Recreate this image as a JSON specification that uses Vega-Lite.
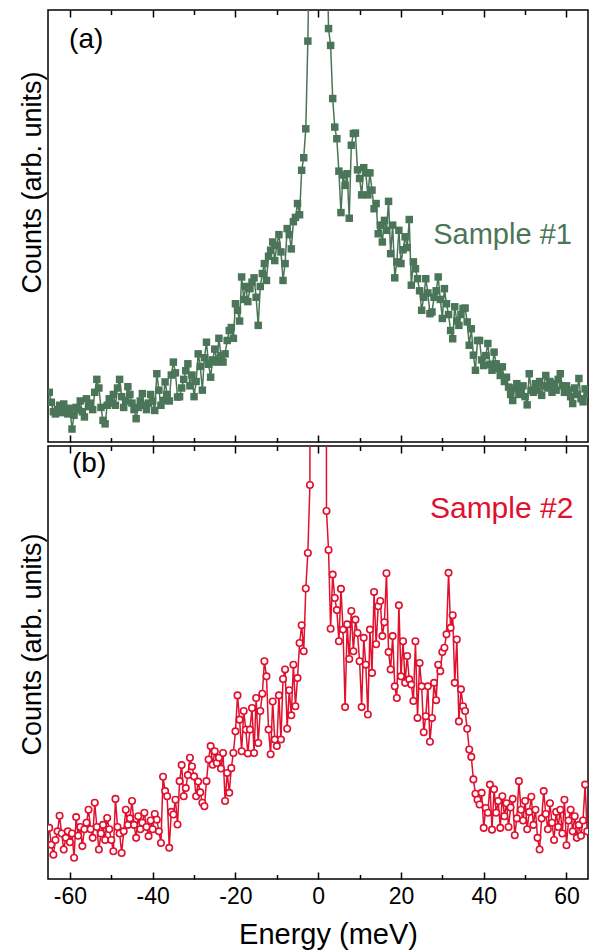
{
"$schema": "https://vega.github.io/schema/vega-lite/v6.json",
"background": "white",
"padding": {"left": 17, "top": 8, "right": 5, "bottom": 5},
"spacing": 0,
"config": {"view": {"stroke": "black", "strokeWidth": 1.5}, "font": "Liberation Sans", "axis": {"domain": false, "grid": false, "labelFont": "Liberation Sans", "titleFont": "Liberation Sans", "titleFontWeight": "normal", "labelColor": "black", "titleColor": "black", "tickColor": "black"}},
"datasets": {
"a": [
{"x":-65,"y":11.5},{"x":-64.5,"y":9.2},{"x":-64,"y":7.0},{"x":-63.5,"y":6.5},{"x":-63,"y":7.5},{"x":-62.5,"y":8.5},{"x":-62,"y":6.8},{"x":-61.5,"y":8.8},{"x":-61,"y":7.2},{"x":-60.5,"y":6.5},
{"x":-60,"y":7.8},{"x":-59.5,"y":3.0},{"x":-59,"y":6.2},{"x":-58.5,"y":8.0},{"x":-58,"y":7.5},{"x":-57.5,"y":9.5},{"x":-57,"y":7.0},{"x":-56.5,"y":5.8},{"x":-56,"y":10.0},{"x":-55.5,"y":8.2},
{"x":-55,"y":9.0},{"x":-54.5,"y":7.5},{"x":-54,"y":11.5},{"x":-53.5,"y":14.5},{"x":-53,"y":12.5},{"x":-52.5,"y":8.0},{"x":-52,"y":5.0},{"x":-51.5,"y":4.2},{"x":-51,"y":8.5},{"x":-50.5,"y":10.0},
{"x":-50,"y":9.0},{"x":-49.5,"y":11.0},{"x":-49,"y":8.5},{"x":-48.5,"y":12.5},{"x":-48,"y":14.5},{"x":-47.5,"y":10.5},{"x":-47,"y":8.0},{"x":-46.5,"y":9.5},{"x":-46,"y":12.8},{"x":-45.5,"y":11.0},
{"x":-45,"y":9.0},{"x":-44.5,"y":7.5},{"x":-44,"y":5.4},{"x":-43.5,"y":8.0},{"x":-43,"y":9.5},{"x":-42.5,"y":11.2},{"x":-42,"y":8.5},{"x":-41.5,"y":7.5},{"x":-41,"y":9.0},{"x":-40.5,"y":11.0},
{"x":-40,"y":9.5},{"x":-39.5,"y":7.3},{"x":-39,"y":15.8},{"x":-38.5,"y":12.0},{"x":-38,"y":8.5},{"x":-37.5,"y":9.6},{"x":-37,"y":13.9},{"x":-36.5,"y":11.0},{"x":-36,"y":9.5},{"x":-35.5,"y":15.5},
{"x":-35,"y":18.5},{"x":-34.5,"y":16.0},{"x":-34,"y":10.4},{"x":-33.5,"y":10.5},{"x":-33,"y":12.5},{"x":-32.5,"y":14.5},{"x":-32,"y":16.5},{"x":-31.5,"y":18.1},{"x":-31,"y":13.0},{"x":-30.5,"y":15.5},
{"x":-30,"y":10.5},{"x":-29.5,"y":14.0},{"x":-29,"y":20.4},{"x":-28.5,"y":17.5},{"x":-28,"y":12.0},{"x":-27.5,"y":19.5},{"x":-27,"y":23.1},{"x":-26.5,"y":18.0},{"x":-26,"y":15.0},{"x":-25.5,"y":19.0},
{"x":-25,"y":21.5},{"x":-24.5,"y":18.5},{"x":-24,"y":24.0},{"x":-23.5,"y":20.0},{"x":-23,"y":18.5},{"x":-22.5,"y":20.4},{"x":-22,"y":23.5},{"x":-21.5,"y":25.8},{"x":-21,"y":26.5},{"x":-20.5,"y":24.0},
{"x":-20,"y":32.0},{"x":-19.5,"y":30.5},{"x":-19,"y":28.0},{"x":-18.5,"y":38.2},{"x":-18,"y":33.0},{"x":-17.5,"y":36.0},{"x":-17,"y":32.5},{"x":-16.5,"y":35.5},{"x":-16,"y":37.0},{"x":-15.5,"y":38.0},
{"x":-15,"y":33.5},{"x":-14.5,"y":27.0},{"x":-14,"y":36.0},{"x":-13.5,"y":39.0},{"x":-13,"y":41.3},{"x":-12.5,"y":37.4},{"x":-12,"y":43.0},{"x":-11.5,"y":44.4},{"x":-11,"y":46.3},{"x":-10.5,"y":42.0},
{"x":-10,"y":45.5},{"x":-9.5,"y":48.0},{"x":-9,"y":44.0},{"x":-8.5,"y":37.4},{"x":-8,"y":41.3},{"x":-7.5,"y":49.4},{"x":-7,"y":48.0},{"x":-6.5,"y":44.7},{"x":-6,"y":51.0},{"x":-5.5,"y":52.0},
{"x":-5,"y":55.2},{"x":-4.5,"y":52.6},{"x":-4,"y":62.9},{"x":-3.5,"y":65.8},{"x":-3,"y":72.5},{"x":-2.5,"y":92.8},{"x":-2,"y":125},{"x":-1.5,"y":300},{"x":-1,"y":700},{"x":-0.5,"y":1200},
{"x":0,"y":1500},{"x":0.5,"y":1200},{"x":1,"y":700},{"x":1.5,"y":300},{"x":2,"y":120},{"x":2.5,"y":95.7},{"x":3,"y":91.8},{"x":3.5,"y":79.5},{"x":4,"y":72.9},{"x":4.5,"y":70.2},
{"x":5,"y":62.7},{"x":5.5,"y":53.1},{"x":6,"y":61.8},{"x":6.5,"y":59.4},{"x":7,"y":62.1},{"x":7.5,"y":51.8},{"x":8,"y":68.7},{"x":8.5,"y":71.4},{"x":9,"y":71.5},{"x":9.5,"y":63.0},
{"x":10,"y":61.0},{"x":10.5,"y":57.2},{"x":11,"y":63.5},{"x":11.5,"y":62.3},{"x":12,"y":57.2},{"x":12.5,"y":62.3},{"x":13,"y":58.3},{"x":13.5,"y":54.0},{"x":14,"y":55.2},{"x":14.5,"y":48.2},
{"x":15,"y":50.2},{"x":15.5,"y":46.3},{"x":16,"y":51.3},{"x":16.5,"y":49.0},{"x":17,"y":55.7},{"x":17.5,"y":43.6},{"x":18,"y":50.2},{"x":18.5,"y":38.0},{"x":19,"y":41.7},{"x":19.5,"y":49.0},
{"x":20,"y":41.3},{"x":20.5,"y":44.5},{"x":21,"y":47.5},{"x":21.5,"y":45.0},{"x":22,"y":51.5},{"x":22.5,"y":36.3},{"x":23,"y":41.7},{"x":23.5,"y":40.1},{"x":24,"y":37.8},{"x":24.5,"y":35.0},
{"x":25,"y":30.5},{"x":25.5,"y":33.5},{"x":26,"y":37.8},{"x":26.5,"y":34.5},{"x":27,"y":29.7},{"x":27.5,"y":30.1},{"x":28,"y":33.5},{"x":28.5,"y":35.0},{"x":29,"y":38.2},{"x":29.5,"y":33.0},
{"x":30,"y":28.6},{"x":30.5,"y":35.5},{"x":31,"y":32.0},{"x":31.5,"y":29.5},{"x":32,"y":25.8},{"x":32.5,"y":23.9},{"x":33,"y":31.3},{"x":33.5,"y":28.0},{"x":34,"y":27.0},{"x":34.5,"y":29.5},
{"x":35,"y":30.9},{"x":35.5,"y":31.0},{"x":36,"y":27.8},{"x":36.5,"y":22.4},{"x":37,"y":26.2},{"x":37.5,"y":20.1},{"x":38,"y":16.6},{"x":38.5,"y":23.5},{"x":39,"y":23.5},{"x":39.5,"y":19.0},
{"x":40,"y":17.7},{"x":40.5,"y":20.0},{"x":41,"y":22.8},{"x":41.5,"y":18.0},{"x":42,"y":16.6},{"x":42.5,"y":20.8},{"x":43,"y":18.1},{"x":43.5,"y":17.0},{"x":44,"y":15.4},{"x":44.5,"y":17.4},
{"x":45,"y":14.0},{"x":45.5,"y":15.0},{"x":46,"y":12.7},{"x":46.5,"y":11.0},{"x":47,"y":9.6},{"x":47.5,"y":12.5},{"x":48,"y":13.5},{"x":48.5,"y":11.0},{"x":49,"y":12.0},{"x":49.5,"y":13.0},
{"x":50,"y":10.5},{"x":50.5,"y":8.6},{"x":51,"y":15.8},{"x":51.5,"y":12.0},{"x":52,"y":11.5},{"x":52.5,"y":13.5},{"x":53,"y":12.0},{"x":53.5,"y":14.0},{"x":54,"y":10.8},{"x":54.5,"y":13.0},
{"x":55,"y":15.4},{"x":55.5,"y":12.5},{"x":56,"y":14.0},{"x":56.5,"y":11.5},{"x":57,"y":13.5},{"x":57.5,"y":12.0},{"x":58,"y":14.5},{"x":58.5,"y":15.8},{"x":59,"y":13.0},{"x":59.5,"y":11.5},
{"x":60,"y":13.0},{"x":60.5,"y":12.0},{"x":61,"y":10.5},{"x":61.5,"y":8.9},{"x":62,"y":12.5},{"x":62.5,"y":11.0},{"x":63,"y":14.7},{"x":63.5,"y":10.0},{"x":64,"y":9.3},{"x":64.5,"y":12.3},{"x":65,"y":11.0}
],
"b": [
{"x":-65,"y":11.8},{"x":-64.5,"y":7.9},{"x":-64,"y":5.6},{"x":-63.5,"y":9.0},{"x":-63,"y":11.0},{"x":-62.5,"y":14.6},{"x":-62,"y":10.5},{"x":-61.5,"y":6.8},{"x":-61,"y":9.5},{"x":-60.5,"y":11.0},
{"x":-60,"y":8.5},{"x":-59.5,"y":10.5},{"x":-59,"y":4.9},{"x":-58.5,"y":14.3},{"x":-58,"y":10.0},{"x":-57.5,"y":12.0},{"x":-57,"y":7.6},{"x":-56.5,"y":11.5},{"x":-56,"y":13.0},{"x":-55.5,"y":16.0},
{"x":-55,"y":11.5},{"x":-54.5,"y":9.5},{"x":-54,"y":17.6},{"x":-53.5,"y":12.0},{"x":-53,"y":6.8},{"x":-52.5,"y":10.5},{"x":-52,"y":12.5},{"x":-51.5,"y":9.0},{"x":-51,"y":14.1},{"x":-50.5,"y":11.5},
{"x":-50,"y":9.0},{"x":-49.5,"y":6.4},{"x":-49,"y":18.5},{"x":-48.5,"y":12.0},{"x":-48,"y":10.5},{"x":-47.5,"y":6.0},{"x":-47,"y":11.0},{"x":-46.5,"y":16.0},{"x":-46,"y":12.5},{"x":-45.5,"y":14.0},
{"x":-45,"y":18.0},{"x":-44.5,"y":12.5},{"x":-44,"y":9.5},{"x":-43.5,"y":14.5},{"x":-43,"y":11.5},{"x":-42.5,"y":13.0},{"x":-42,"y":15.3},{"x":-41.5,"y":12.0},{"x":-41,"y":9.9},{"x":-40.5,"y":13.5},
{"x":-40,"y":11.5},{"x":-39.5,"y":15.0},{"x":-39,"y":13.7},{"x":-38.5,"y":11.0},{"x":-38,"y":8.3},{"x":-37.5,"y":23.6},{"x":-37,"y":20.3},{"x":-36.5,"y":19.1},{"x":-36,"y":7.2},{"x":-35.5,"y":15.5},
{"x":-35,"y":14.9},{"x":-34.5,"y":18.3},{"x":-34,"y":12.6},{"x":-33.5,"y":22.6},{"x":-33,"y":26.3},{"x":-32.5,"y":19.1},{"x":-32,"y":21.0},{"x":-31.5,"y":24.0},{"x":-31,"y":28.0},{"x":-30.5,"y":26.0},
{"x":-30,"y":23.7},{"x":-29.5,"y":19.1},{"x":-29,"y":22.5},{"x":-28.5,"y":20.0},{"x":-28,"y":17.6},{"x":-27.5,"y":16.8},{"x":-27,"y":22.6},{"x":-26.5,"y":27.6},{"x":-26,"y":30.7},{"x":-25.5,"y":26.4},
{"x":-25,"y":29.5},{"x":-24.5,"y":26.8},{"x":-24,"y":28.0},{"x":-23.5,"y":25.5},{"x":-23,"y":29.1},{"x":-22.5,"y":18.0},{"x":-22,"y":24.5},{"x":-21.5,"y":19.9},{"x":-21,"y":25.6},{"x":-20.5,"y":29.1},
{"x":-20,"y":34.1},{"x":-19.5,"y":42.4},{"x":-19,"y":36.8},{"x":-18.5,"y":29.5},{"x":-18,"y":38.8},{"x":-17.5,"y":34.5},{"x":-17,"y":29.0},{"x":-16.5,"y":34.5},{"x":-16,"y":39.5},{"x":-15.5,"y":29.1},
{"x":-15,"y":41.8},{"x":-14.5,"y":31.4},{"x":-14,"y":38.8},{"x":-13.5,"y":42.8},{"x":-13,"y":50.3},{"x":-12.5,"y":46.8},{"x":-12,"y":34.5},{"x":-11.5,"y":28.8},{"x":-11,"y":41.0},{"x":-10.5,"y":32.2},
{"x":-10,"y":30.7},{"x":-9.5,"y":42.4},{"x":-9,"y":32.2},{"x":-8.5,"y":46.2},{"x":-8,"y":48.4},{"x":-7.5,"y":34.7},{"x":-7,"y":43.6},{"x":-6.5,"y":37.8},{"x":-6,"y":49.5},{"x":-5.5,"y":39.9},
{"x":-5,"y":46.4},{"x":-4.5,"y":54.5},{"x":-4,"y":58.6},{"x":-3.5,"y":52.6},{"x":-3,"y":67.1},{"x":-2.5,"y":75.3},{"x":-2,"y":91.0},{"x":-1.5,"y":600},{"x":-1,"y":1200},{"x":-0.5,"y":1500},
{"x":0,"y":1500},{"x":0.5,"y":1500},{"x":1,"y":1200},{"x":1.5,"y":600},{"x":2,"y":85.0},{"x":2.5,"y":76.0},{"x":3,"y":57.8},{"x":3.5,"y":70.3},{"x":4,"y":64.9},{"x":4.5,"y":62.1},
{"x":5,"y":54.9},{"x":5.5,"y":67.0},{"x":6,"y":57.6},{"x":6.5,"y":39.7},{"x":7,"y":58.8},{"x":7.5,"y":50.8},{"x":8,"y":61.9},{"x":8.5,"y":52.6},{"x":9,"y":59.9},{"x":9.5,"y":56.8},
{"x":10,"y":50.3},{"x":10.5,"y":39.7},{"x":11,"y":55.7},{"x":11.5,"y":49.5},{"x":12,"y":38.0},{"x":12.5,"y":57.6},{"x":13,"y":47.6},{"x":13.5,"y":66.3},{"x":14,"y":54.2},{"x":14.5,"y":63.0},
{"x":15,"y":64.2},{"x":15.5,"y":56.1},{"x":16,"y":59.3},{"x":16.5,"y":70.6},{"x":17,"y":52.4},{"x":17.5,"y":48.4},{"x":18,"y":56.1},{"x":18.5,"y":44.5},{"x":19,"y":41.8},{"x":19.5,"y":63.2},
{"x":20,"y":46.8},{"x":20.5,"y":54.9},{"x":21,"y":45.3},{"x":21.5,"y":51.5},{"x":22,"y":46.1},{"x":22.5,"y":44.9},{"x":23,"y":41.1},{"x":23.5,"y":54.9},{"x":24,"y":37.2},{"x":24.5,"y":49.9},
{"x":25,"y":44.5},{"x":25.5,"y":33.9},{"x":26,"y":37.6},{"x":26.5,"y":44.5},{"x":27,"y":31.7},{"x":27.5,"y":37.2},{"x":28,"y":45.3},{"x":28.5,"y":41.3},{"x":29,"y":49.5},{"x":29.5,"y":48.0},
{"x":30,"y":52.4},{"x":30.5,"y":53.4},{"x":31,"y":56.5},{"x":31.5,"y":70.7},{"x":32,"y":58.0},{"x":32.5,"y":60.9},{"x":33,"y":45.3},{"x":33.5,"y":55.3},{"x":34,"y":36.4},{"x":34.5,"y":43.8},
{"x":35,"y":39.9},{"x":35.5,"y":38.8},{"x":36,"y":34.7},{"x":36.5,"y":29.9},{"x":37,"y":28.2},{"x":37.5,"y":23.0},{"x":38,"y":19.7},{"x":38.5,"y":18.3},{"x":39,"y":17.2},{"x":39.5,"y":19.9},
{"x":40,"y":11.8},{"x":40.5,"y":16.4},{"x":41,"y":15.3},{"x":41.5,"y":21.8},{"x":42,"y":11.4},{"x":42.5,"y":20.7},{"x":43,"y":15.3},{"x":43.5,"y":18.0},{"x":44,"y":11.8},{"x":44.5,"y":19.1},
{"x":45,"y":14.5},{"x":45.5,"y":17.5},{"x":46,"y":12.0},{"x":46.5,"y":16.5},{"x":47,"y":18.5},{"x":47.5,"y":10.1},{"x":48,"y":14.0},{"x":48.5,"y":22.6},{"x":49,"y":16.0},{"x":49.5,"y":13.5},
{"x":50,"y":18.0},{"x":50.5,"y":11.5},{"x":51,"y":15.5},{"x":51.5,"y":19.0},{"x":52,"y":12.5},{"x":52.5,"y":16.0},{"x":53,"y":9.5},{"x":53.5,"y":6.8},{"x":54,"y":14.0},{"x":54.5,"y":20.3},
{"x":55,"y":15.0},{"x":55.5,"y":11.5},{"x":56,"y":17.5},{"x":56.5,"y":13.0},{"x":57,"y":9.0},{"x":57.5,"y":15.5},{"x":58,"y":12.0},{"x":58.5,"y":16.0},{"x":59,"y":10.5},{"x":59.5,"y":18.3},
{"x":60,"y":7.8},{"x":60.5,"y":13.5},{"x":61,"y":16.0},{"x":61.5,"y":11.0},{"x":62,"y":14.5},{"x":62.5,"y":9.5},{"x":63,"y":12.5},{"x":63.5,"y":10.0},{"x":64,"y":13.5},{"x":64.5,"y":21.8},{"x":65,"y":11.0}
]
},
"vconcat": [
{
"width": 540, "height": 432,
"resolve": {"axis": {"x": "independent", "y": "independent"}},
"layer": [
{"data": {"name": "a"},
 "mark": {"type": "line", "clip": true, "color": "#4b7558", "strokeWidth": 1.5, "point": {"shape": "square", "filled": true, "size": 56, "color": "#4b7558", "opacity": 1}},
 "encoding": {
  "x": {"field": "x", "type": "quantitative", "scale": {"domain": [-65.3, 65.2], "nice": false, "zero": false},
        "axis": {"orient": "bottom", "values": [-60,-50,-40,-30,-20,-10,0,10,20,30,40,50,60], "labels": false, "title": null, "tickWidth": 1.5,
                 "tickSize": {"condition": {"test": "datum.value % 20 === 0", "value": -7}, "value": -4.5}}},
  "y": {"field": "y", "type": "quantitative", "scale": {"domain": [0, 100], "nice": false, "zero": false},
        "axis": {"title": "Counts (arb. units)", "ticks": false, "labels": false, "titleFontSize": 27, "titlePadding": 2, "titleY": 172}}
 }},
{"data": {"values": [{"x": -60.2, "y": 91.2, "t": "(a)"}]},
 "mark": {"type": "text", "align": "left", "baseline": "alphabetic", "fontSize": 28, "color": "black", "font": "Liberation Sans"},
 "encoding": {
  "x": {"field": "x", "type": "quantitative", "scale": {"domain": [-65.3, 65.2], "nice": false, "zero": false},
        "axis": {"orient": "top", "values": [-60,-50,-40,-30,-20,-10,0,10,20,30,40,50,60], "labels": false, "title": null, "tickWidth": 1.5,
                 "tickSize": {"condition": {"test": "datum.value % 20 === 0", "value": -7}, "value": -4.5}}},
  "y": {"field": "y", "type": "quantitative", "scale": {"domain": [0, 100], "nice": false, "zero": false}, "axis": null},
  "text": {"field": "t"}
 }},
{"data": {"values": [{"x": 27.8, "y": 45.9, "t": "Sample #1"}]},
 "mark": {"type": "text", "align": "left", "baseline": "alphabetic", "fontSize": 29, "color": "#4b7558", "font": "Liberation Sans"},
 "encoding": {
  "x": {"field": "x", "type": "quantitative", "axis": null},
  "y": {"field": "y", "type": "quantitative", "axis": null},
  "text": {"field": "t"}
 }}
]
},
{
"width": 540, "height": 433,
"resolve": {"axis": {"x": "independent", "y": "independent"}},
"layer": [
{"data": {"name": "b"},
 "mark": {"type": "line", "clip": true, "color": "#e0102e", "strokeWidth": 1.5, "point": {"shape": "circle", "filled": true, "fill": "white", "stroke": "#e0102e", "strokeWidth": 1.6, "size": 42, "opacity": 1}},
 "encoding": {
  "x": {"field": "x", "type": "quantitative", "scale": {"domain": [-65.3, 65.2], "nice": false, "zero": false},
        "axis": {"orient": "bottom", "values": [-60,-50,-40,-30,-20,-10,0,10,20,30,40,50,60], "labelExpr": "datum.value % 20 === 0 ? '' + datum.value : ''", "labelOverlap": false, "labelFlush": false, "labelFontSize": 23, "labelPadding": 13, "tickWidth": 1.5,
                 "tickSize": {"condition": {"test": "datum.value % 20 === 0", "value": -7}, "value": -4.5},
                 "title": "Energy (meV)", "titleFontSize": 29, "titlePadding": 10, "titleX": 280}},
  "y": {"field": "y", "type": "quantitative", "scale": {"domain": [0, 100], "nice": false, "zero": false},
        "axis": {"title": "Counts (arb. units)", "ticks": false, "labels": false, "titleFontSize": 27, "titlePadding": 2, "titleY": 198}}
 }},
{"data": {"values": [{"x": -59.5, "y": 94, "t": "(b)"}]},
 "mark": {"type": "text", "align": "left", "baseline": "alphabetic", "fontSize": 28, "color": "black", "font": "Liberation Sans"},
 "encoding": {
  "x": {"field": "x", "type": "quantitative", "scale": {"domain": [-65.3, 65.2], "nice": false, "zero": false},
        "axis": {"orient": "top", "values": [-60,-50,-40,-30,-20,-10,0,10,20,30,40,50,60], "labels": false, "title": null, "tickWidth": 1.5,
                 "tickSize": {"condition": {"test": "datum.value % 20 === 0", "value": -7}, "value": -4.5}}},
  "y": {"field": "y", "type": "quantitative", "scale": {"domain": [0, 100], "nice": false, "zero": false}, "axis": null},
  "text": {"field": "t"}
 }},
{"data": {"values": [{"x": 27.0, "y": 83.4, "t": "Sample #2"}]},
 "mark": {"type": "text", "align": "left", "baseline": "alphabetic", "fontSize": 30, "color": "#e0102e", "font": "Liberation Sans"},
 "encoding": {
  "x": {"field": "x", "type": "quantitative", "axis": null},
  "y": {"field": "y", "type": "quantitative", "axis": null},
  "text": {"field": "t"}
 }}
]
}
]
}
